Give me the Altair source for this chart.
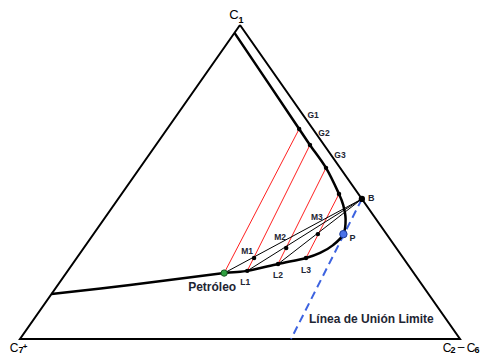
import altair as alt
import pandas as pd

# Ternary compositions in percent: (C1, C2-C6); C7+ = 100 - C1 - (C2-C6)
# Phase envelope (dew line from near C1, around the critical region, bubble line to the C1-C7+ edge)
env_c1 = [97.5, 66.9, 61.8, 54.5, 46.2, 42.7, 38.2, 33.4, 29.9, 27.4, 25.8, 23.9, 21.7, 21.0, 17.2, 14.3]
env_c2 = [0.0, 30.0, 35.0, 42.3, 49.4, 52.1, 54.9, 56.8, 56.2, 54.5, 52.1, 46.7, 40.8, 35.9, 16.4, 0.0]

# Named points
pt_names = ["G1", "G2", "G3", "G4", "B", "P", "L1", "L2", "L3", "M1", "M2", "M3", "Petróleo"]
pt_c1 = [66.9, 61.8, 54.5, 46.2, 44.6, 33.4, 21.7, 23.9, 25.8, 25.8, 29.0, 33.4, 21.0]
pt_c2 = [30.0, 35.0, 42.3, 49.4, 55.4, 56.8, 40.8, 46.7, 52.1, 40.3, 46.0, 51.0, 35.9]

# Tie lines (red): liquid -> gas
tie_liq = ["Petróleo", "L1", "L2", "L3"]
tie_gas = ["G1", "G2", "G3", "G4"]
# Balance lines (black) to injection gas B
bal_from = ["Petróleo", "L1", "L2"]
bal_to = ["B", "B", "B"]

# Triangle corners: C1 (top), C7+ (bottom left), C2-C6 (bottom right)
corner_names = ["C1", "C7+", "C2-C6"]
corner_c1 = [100.0, 0.0, 0.0]
corner_c2 = [0.0, 0.0, 100.0]

# Limiting tie line (blue dashed): from B through P to the base
limit_c1 = [44.6, 0.0]
limit_c2 = [55.4, 61.6]


def tx(c1, c2):
    return c2 / 100.0 + c1 / 200.0


def ty(c1):
    return c1 / 100.0


P = {n: (tx(a, b), ty(a)) for n, a, b in zip(pt_names, pt_c1, pt_c2)}
for n, a, b in zip(corner_names, corner_c1, corner_c2):
    P[n] = (tx(a, b), ty(a))

XS = alt.Scale(domain=[0, 1], range=[12, 452])
YS = alt.Scale(domain=[0, 1], range=[331, 17])


def X(f="x"):
    return alt.X(f, type="quantitative", scale=XS, axis=None)


def Y(f="y"):
    return alt.Y(f, type="quantitative", scale=YS, axis=None)


# triangle
tri_order = ["C1", "C7+", "C2-C6", "C1"]
df_tri = pd.DataFrame({"x": [P[n][0] for n in tri_order], "y": [P[n][1] for n in tri_order],
                       "o": list(range(4))})
tri = alt.Chart(df_tri).mark_line(color="black", strokeWidth=2, strokeJoin="miter").encode(
    x=X(), y=Y(), order="o:Q")

# envelope
df_env = pd.DataFrame({"x": [tx(a, b) for a, b in zip(env_c1, env_c2)],
                       "y": [ty(a) for a in env_c1], "o": list(range(len(env_c1)))})
env = alt.Chart(df_env).mark_line(color="black", strokeWidth=2.5, interpolate="cardinal").encode(
    x=X(), y=Y(), order="o:Q")


def seg_df(a_list, b_list):
    return pd.DataFrame({"x": [P[a][0] for a in a_list], "y": [P[a][1] for a in a_list],
                         "x2": [P[b][0] for b in b_list], "y2": [P[b][1] for b in b_list]})


red = alt.Chart(seg_df(tie_liq, tie_gas)).mark_rule(color="#ff2020", strokeWidth=1).encode(
    x=X(), y=Y(), x2="x2:Q", y2="y2:Q")
blk = alt.Chart(seg_df(bal_from, bal_to)).mark_rule(color="black", strokeWidth=1).encode(
    x=X(), y=Y(), x2="x2:Q", y2="y2:Q")

df_lim = pd.DataFrame({"x": [tx(limit_c1[0], limit_c2[0])], "y": [ty(limit_c1[0])],
                       "x2": [tx(limit_c1[1], limit_c2[1])], "y2": [ty(limit_c1[1])]})
lim = alt.Chart(df_lim).mark_rule(color="#3d63e0", strokeWidth=2, strokeDash=[8, 5]).encode(
    x=X(), y=Y(), x2="x2:Q", y2="y2:Q")


def pts_df(names):
    return pd.DataFrame({"name": names, "x": [P[n][0] for n in names], "y": [P[n][1] for n in names]})


dots = alt.Chart(pts_df(["G1", "G2", "G3", "G4", "L1", "L2", "L3", "M1", "M2", "M3"])).mark_circle(
    color="black", size=20, opacity=1).encode(x=X(), y=Y())
dot_b = alt.Chart(pts_df(["B"])).mark_circle(color="black", size=40, opacity=1).encode(x=X(), y=Y())
dot_p = alt.Chart(pts_df(["P"])).mark_point(filled=True, fill="#4a72e8", stroke="#1c3c9c",
                                             strokeWidth=1, size=55, opacity=1).encode(x=X(), y=Y())
dot_g = alt.Chart(pts_df(["Petróleo"])).mark_point(filled=True, fill="#2fa040", stroke="#15561f",
                                                    strokeWidth=1, size=40, opacity=1).encode(x=X(), y=Y())

LC = "#1e2533"
FONT = "Liberation Sans"
# (anchor, text, dx, dy, size, weight, align, color)
label_specs = [
    ("G1", "G1", 14, -14, 8.5, "bold", "center", LC),
    ("G2", "G2", 14, -12, 8.5, "bold", "center", LC),
    ("G3", "G3", 14, -13, 8.5, "bold", "center", LC),
    ("B", "B", 6, -1, 9, "bold", "left", LC),
    ("P", "P", 6, 4, 9, "bold", "left", LC),
    ("M1", "M1", -7, -7, 8.5, "bold", "center", LC),
    ("M2", "M2", -6, -11, 8.5, "bold", "center", LC),
    ("M3", "M3", -1, -17, 8.5, "bold", "center", LC),
    ("L1", "L1", -2, 11, 8.5, "bold", "center", LC),
    ("L2", "L2", 0, 11, 8.5, "bold", "center", LC),
    ("L3", "L3", 0, 12, 8.5, "bold", "center", LC),
    ("Petróleo", "Petróleo", -12, 14, 12, "bold", "center", LC),
    ("C1", "C", -6, -10, 13, "normal", "center", "black"),
    ("C1", "1", 1, -5, 9, "bold", "center", "black"),
    ("C7+", "C", -6, 9, 12, "normal", "center", "black"),
    ("C7+", "7", 1, 11, 9, "bold", "center", "black"),
    ("C7+", "+", 5, 8, 8, "bold", "center", "black"),
    ("C2-C6", "C", -13, 9, 12, "normal", "center", "black"),
    ("C2-C6", "2", -7, 11, 9, "bold", "center", "black"),
    ("C2-C6", "–", 1, 8, 12, "normal", "center", "black"),
    ("C2-C6", "C", 11, 9, 12, "normal", "center", "black"),
    ("C2-C6", "6", 17, 11, 9, "bold", "center", "black"),
]

texts = []
for anchor, txt, dx, dy, size, weight, align, col in label_specs:
    d = pd.DataFrame({"x": [P[anchor][0]], "y": [P[anchor][1]], "t": [txt]})
    texts.append(alt.Chart(d).mark_text(dx=dx, dy=dy, fontSize=size, fontWeight=weight, align=align,
                                        font=FONT, color=col).encode(x=X(), y=Y(), text="t:N"))

# limiting tie line label anchored at its base end
d_lim_lab = pd.DataFrame({"x": [tx(limit_c1[1], limit_c2[1])], "y": [ty(limit_c1[1])],
                          "t": ["Línea de Unión Limite"]})
texts.append(alt.Chart(d_lim_lab).mark_text(dx=18, dy=-20, fontSize=12, fontWeight="bold", align="left",
                                            font=FONT, color=LC).encode(x=X(), y=Y(), text="t:N"))

chart = alt.layer(tri, red, blk, lim, env, dots, dot_b, dot_p, dot_g, *texts).properties(
    width=475, height=346, padding=0, autosize="none"
).configure_view(stroke=None)

chart.save("out.html", embed_options={"renderer": "svg", "actions": False})
